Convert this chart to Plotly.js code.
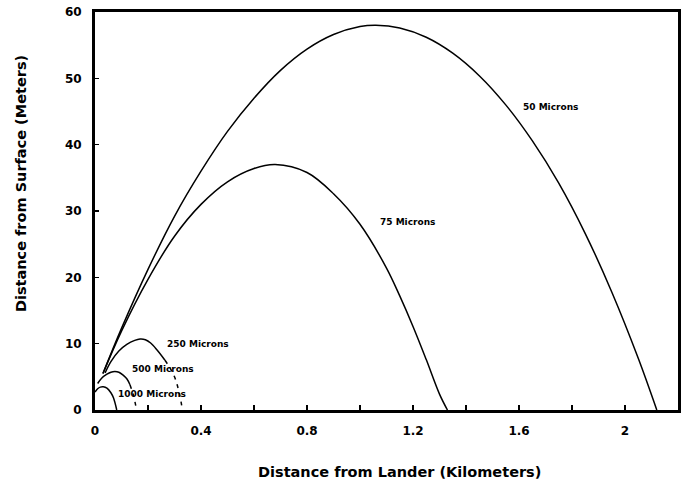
<!DOCTYPE html>
<html>
<head>
<meta charset="utf-8">
<script src="https://cdn.plot.ly/plotly-3.0.1.min.js"></script>
<style>html,body{margin:0;padding:0;background:#fff;}#chart{width:689px;height:483px;}</style>
</head>
<body>
<div id="chart"></div>
<script>
// 50 micron trajectory (km, m)
const x50 = [0.03, 0.1, 0.2, 0.3, 0.4, 0.5, 0.6, 0.7, 0.8, 0.9, 1.0, 1.06, 1.15, 1.25, 1.35, 1.45, 1.55, 1.65, 1.75, 1.85, 1.95, 2.05, 2.12];
const y50 = [5.5, 12.3, 21.2, 29.2, 36.0, 42.0, 47.0, 51.2, 54.4, 56.6, 57.8, 58.0, 57.6, 56.2, 53.8, 50.4, 46.0, 40.6, 34.2, 26.6, 17.8, 7.8, 0];
// 75 micron trajectory
const x75 = [0.03, 0.1, 0.2, 0.3, 0.4, 0.5, 0.6, 0.68, 0.8, 0.9, 1.0, 1.1, 1.15, 1.2, 1.25, 1.3, 1.33];
const y75 = [5.5, 11.9, 19.7, 26.2, 31.0, 34.4, 36.4, 37.0, 35.8, 32.6, 28.0, 21.4, 17.2, 12.6, 7.6, 2.4, 0];
// 250 micron trajectory (solid part + dashed continuation)
const x250 = [0.038, 0.06, 0.09, 0.12, 0.15, 0.17, 0.19, 0.21, 0.235, 0.264];
const y250 = [5.6, 7.3, 8.9, 9.9, 10.5, 10.7, 10.6, 10.1, 9.0, 7.5];
const x250d = [0.264, 0.285, 0.30, 0.31, 0.32, 0.33];
const y250d = [7.5, 6.2, 5.0, 3.8, 2.2, 0];
// 500 micron trajectory
const x500 = [0.01, 0.025, 0.045, 0.06, 0.075, 0.09, 0.105, 0.12, 0.132];
const y500 = [4.0, 4.8, 5.4, 5.7, 5.8, 5.7, 5.3, 4.7, 3.8];
const x500d = [0.132, 0.145, 0.157];
const y500d = [3.8, 2.2, 0];
// 1000 micron trajectory
const x1000 = [0.0, 0.01, 0.02, 0.031, 0.045, 0.06, 0.07, 0.082];
const y1000 = [2.7, 3.2, 3.45, 3.5, 3.3, 2.6, 1.8, 0];

// curve labels
const labelText = ["50 Microns", "75 Microns", "250 Microns", "500 Microns", "1000 Microns"];
const labelX = [1.72, 1.18, 0.39, 0.257, 0.216];
const labelY = [45.7, 28.4, 10.0, 6.2, 2.4];

// ticks
const xTickVals = [0, 0.2, 0.4, 0.6, 0.8, 1.0, 1.2, 1.4, 1.6, 1.8, 2.0];
const xTickText = ["0", "", "0.4", "", "0.8", "", "1.2", "", "1.6", "", "2"];
const yTickVals = [0, 10, 20, 30, 40, 50, 60];
const yTickText = ["0", "10", "20", "30", "40", "50", "60"];

const solid = {color: "#000", width: 1.5, shape: "spline", smoothing: 1};
const dashed = {color: "#000", width: 1.5, dash: "4px,5px", shape: "spline", smoothing: 1};
const mk = (x, y, line) => ({x: x, y: y, type: "scatter", mode: "lines", line: line, hoverinfo: "skip", showlegend: false});

const traces = [
  mk(x50, y50, solid), mk(x75, y75, solid),
  mk(x250, y250, solid), mk(x250d, y250d, dashed),
  mk(x500, y500, solid), mk(x500d, y500d, dashed),
  mk(x1000, y1000, solid)
];

const fontFam = "DejaVu Sans, sans-serif";
const annotations = labelText.map((t, i) => ({
  x: labelX[i], y: labelY[i], xref: "x", yref: "y", text: "<b>" + t + "</b>",
  showarrow: false, xanchor: "center", yanchor: "middle",
  font: {family: fontFam, size: 9, color: "#000"}
}));
annotations.push({
  x: -0.127, y: 0.57, xref: "paper", yref: "paper", xanchor: "center", yanchor: "middle",
  text: "<b>Distance from Surface (Meters)</b>", textangle: -90, showarrow: false,
  font: {family: fontFam, size: 14.5, color: "#000"}
});
annotations.push({
  x: 0.523, y: -0.156, xref: "paper", yref: "paper", xanchor: "center", yanchor: "middle",
  text: "<b>Distance from Lander (Kilometers)</b>", showarrow: false,
  font: {family: fontFam, size: 14.5, color: "#000"}
});

const layout = {
  width: 689, height: 483,
  margin: {l: 95, r: 11, t: 12, b: 73},
  paper_bgcolor: "#fff", plot_bgcolor: "#fff",
  showlegend: false,
  xaxis: {
    range: [0, 2.2], showgrid: false, zeroline: false,
    showline: true, linewidth: 3, linecolor: "#000", mirror: true,
    ticks: "inside", ticklen: 5, tickwidth: 1.5, tickcolor: "#000",
    tickmode: "array", tickvals: xTickVals, ticktext: xTickText,
    ticklabelstandoff: 8,
    tickfont: {family: fontFam, size: 12, color: "#000", weight: "bold"}
  },
  yaxis: {
    range: [0, 60], showgrid: false, zeroline: false,
    showline: true, linewidth: 3, linecolor: "#000", mirror: true,
    ticks: "inside", ticklen: 4, tickwidth: 1.5, tickcolor: "#000",
    tickmode: "array", tickvals: yTickVals, ticktext: yTickText,
    ticklabelstandoff: 8,
    tickfont: {family: fontFam, size: 12, color: "#000", weight: "bold"}
  },
  annotations: annotations
};

Plotly.newPlot("chart", traces, layout, {staticPlot: true, displayModeBar: false});
</script>
</body>
</html>
